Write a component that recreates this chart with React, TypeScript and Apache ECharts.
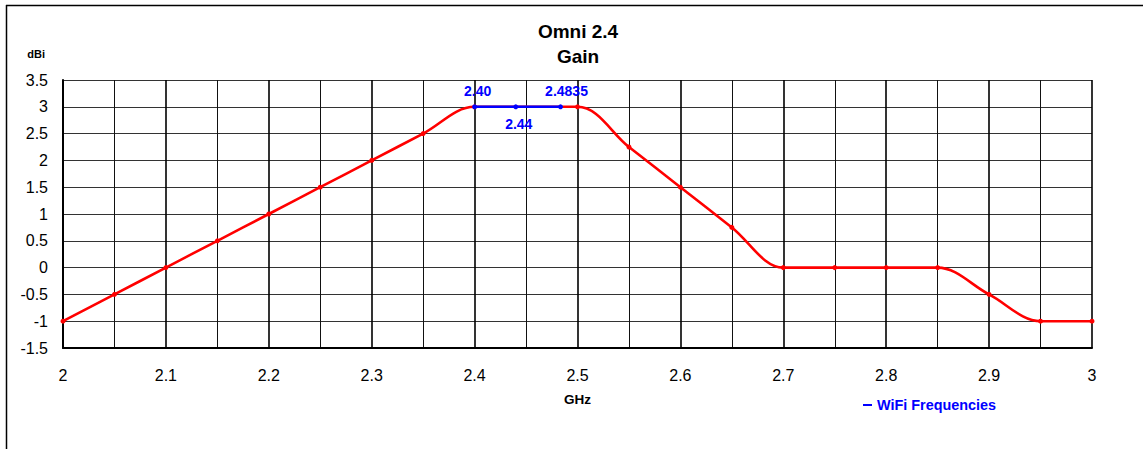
import React, { useEffect, useRef } from "react";
import * as echarts from "echarts";

const gainFreq = [2.0, 2.05, 2.1, 2.15, 2.2, 2.25, 2.3, 2.35, 2.4, 2.5, 2.55, 2.6, 2.65, 2.7, 2.75, 2.8, 2.85, 2.9, 2.95, 3.0];
const gainDbi = [-1, -0.5, 0, 0.5, 1, 1.5, 2, 2.5, 3, 3, 2.25, 1.5, 0.75, 0, 0, 0, 0, -0.5, -1, -1];
const wifiFreq = [2.4, 2.44, 2.4835];
const wifiDbi = [3, 3, 3];
const wifiLabels = ["2.40", "2.44", "2.4835"];
const wifiLabelPos = ["top", "bottom", "top"];
const wifiLabelShift = [3, 3, 6];

const FONT = "'Liberation Sans', Arial, Helvetica, sans-serif";

export default function App() {
  const ref = useRef<HTMLDivElement>(null);
  useEffect(() => {
    const chart = echarts.init(ref.current!, null, { renderer: "svg" });
    const option: any = {
      animation: false,
      backgroundColor: "#ffffff",
      textStyle: { fontFamily: FONT },
      title: {
        text: "Omni 2.4\nGain",
        left: 578,
        textAlign: "center",
        top: 19,
        padding: 0,
        textStyle: { fontFamily: FONT, fontSize: 19, fontWeight: "bold", color: "#000", lineHeight: 25 },
      },
      legend: {
        data: [{ name: "WiFi Frequencies", icon: "rect" }],
        left: 863,
        top: 398,
        padding: 0,
        itemWidth: 9,
        itemHeight: 2,
        itemGap: 4,
        textStyle: { fontFamily: FONT, fontSize: 14.4, fontWeight: "bold", color: "#0000ff", padding: [0, 0, 0, 0] },
      },
      grid: { left: 63, top: 80, width: 1029, height: 268, containLabel: false },
      xAxis: {
        type: "value",
        min: 2,
        max: 3,
        interval: 0.1,
        name: "GHz",
        nameLocation: "middle",
        nameGap: 44,
        nameTextStyle: { fontFamily: FONT, fontSize: 13.5, fontWeight: "bold", color: "#000" },
        axisLine: { show: true, onZero: false, lineStyle: { color: "#000", width: 2 } },
        axisTick: { show: false },
        axisLabel: { fontFamily: FONT, fontSize: 16, color: "#000", margin: 19 },
        splitLine: { show: true, lineStyle: { color: "#000", width: 1.6 } },
        minorTick: { show: false, splitNumber: 2 },
        minorSplitLine: { show: true, lineStyle: { color: "#111", width: 1 } },
      },
      yAxis: {
        type: "value",
        min: -1.5,
        max: 3.5,
        interval: 0.5,
        name: "dBi",
        nameLocation: "end",
        nameGap: 21,
        nameTextStyle: { fontFamily: FONT, fontSize: 11, fontWeight: "bold", color: "#000", align: "right", padding: [0, 18, 0, 0] },
        axisLine: { show: true, lineStyle: { color: "#000", width: 2 } },
        axisTick: { show: false },
        axisLabel: { fontFamily: FONT, fontSize: 16, color: "#000", margin: 15 },
        splitLine: { show: true, lineStyle: { color: "#333", width: 1.2 } },
      },
      series: [
        {
          name: "Gain",
          type: "line",
          data: gainFreq.map((f, i) => [f, gainDbi[i]]),
          smooth: 0.35,
          symbol: "circle",
          symbolSize: 5,
          itemStyle: { color: "#ff0000" },
          lineStyle: { color: "#ff0000", width: 2.6 },
          z: 3,
        },
        {
          name: "WiFi Frequencies",
          type: "line",
          data: wifiFreq.map((f, i) => ({
            value: [f, wifiDbi[i]],
            label: {
              show: true,
              formatter: wifiLabels[i],
              position: wifiLabelPos[i],
              offset: [wifiLabelShift[i], 0],
              distance: wifiLabelPos[i] === "top" ? 6 : 8,
            },
          })),
          symbol: "circle",
          symbolSize: 5,
          itemStyle: { color: "#0000ff" },
          lineStyle: { color: "#0000ff", width: 2.6 },
          label: { fontFamily: FONT, fontSize: 14, fontWeight: "bold", color: "#0000ff" },
          z: 4,
        },
      ],
      graphic: [
        { type: "line", shape: { x1: 6, y1: 5.5, x2: 1143, y2: 5.5 }, style: { stroke: "#000", lineWidth: 1.5 } },
        { type: "line", shape: { x1: 6.5, y1: 5, x2: 6.5, y2: 449 }, style: { stroke: "#000", lineWidth: 1.5 } },
      ],
    };
    chart.setOption(option);
    return () => chart.dispose();
  }, []);
  return <div ref={ref} style={{ position: "fixed", left: 0, top: 0, width: 1143, height: 449 }} />;
}
